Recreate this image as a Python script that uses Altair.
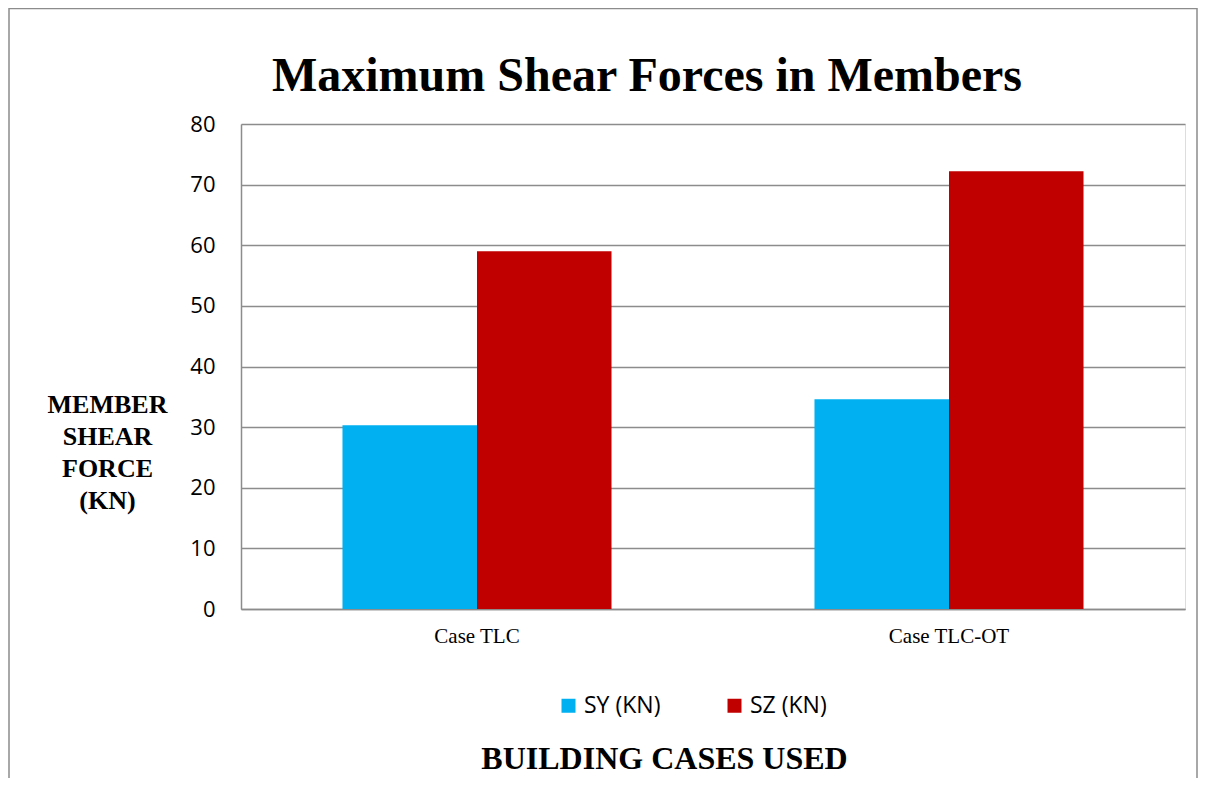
import altair as alt
import pandas as pd

cases = ["Case TLC", "Case TLC-OT"]
series = ["SY (KN)", "SZ (KN)"]
sy_values = [30.3, 34.6]
sz_values = [59.0, 72.2]
colors = ["#00B0F0", "#C00000"]
y_ticks = [0, 10, 20, 30, 40, 50, 60, 70, 80]
chart_title = "Maximum Shear Forces in Members"

rows = []
for i, c in enumerate(cases):
    rows.append({"case": c, "series": series[0], "value": sy_values[i]})
    rows.append({"case": c, "series": series[1], "value": sz_values[i]})
df = pd.DataFrame(rows)

GRID = "#8c8c8c"

bars = alt.Chart(df).mark_bar().encode(
    x=alt.X(
        "case:N",
        sort=cases,
        scale=alt.Scale(paddingInner=0.43, paddingOuter=0.215),
        axis=alt.Axis(
            title="BUILDING CASES USED",
            titleFont="Liberation Serif",
            titleFontSize=32,
            titleFontWeight="bold",
            titleColor="#000000",
            titleX=423,
            titleY=159,
            titleAlign="center",
            titleBaseline="alphabetic",
            labelFont="Liberation Serif",
            labelFontSize=21,
            labelColor="#000000",
            labelAngle=0,
            labelPadding=16,
            ticks=False,
            domain=True,
            domainColor=GRID,
            domainWidth=1.5,
            grid=False,
        ),
    ),
    xOffset=alt.XOffset("series:N", sort=series),
    y=alt.Y(
        "value:Q",
        scale=alt.Scale(domain=[0, 80], nice=False),
        axis=alt.Axis(
            values=y_ticks,
            title=["MEMBER", "SHEAR", "FORCE", "(KN)"],
            titleFont="Liberation Serif",
            titleFontSize=26,
            titleFontWeight="bold",
            titleColor="#000000",
            titleAngle=0,
            titleX=-134,
            titleY=288,
            titleAlign="center",
            titleBaseline="alphabetic",
            titleLineHeight=32,
            labelFont="Open Sans",
            labelFontSize=22,
            labelColor="#000000",
            labelPadding=26,
            ticks=False,
            domain=True,
            domainColor=GRID,
            domainWidth=1.5,
            grid=True,
            gridColor=GRID,
            gridWidth=1.5,
        ),
    ),
    color=alt.Color(
        "series:N",
        sort=series,
        scale=alt.Scale(domain=series, range=colors),
        legend=alt.Legend(
            title=None,
            orient="none",
            direction="horizontal",
            legendX=316,
            legendY=570,
            symbolType="square",
            symbolSize=196,
            symbolStrokeWidth=0,
            symbolOpacity=1,
            labelFont="Open Sans",
            labelFontSize=23,
            labelColor="#000000",
            labelOffset=4,
            columnPadding=62,
        ),
    ),
)

frame_df = pd.DataFrame({"k": [0]})
frame = alt.Chart(frame_df).mark_rect(
    fill="transparent", stroke=GRID, strokeWidth=1.5
).encode(
    x=alt.value(-232),
    x2=alt.value(956),
    y=alt.value(-115.5),
    y2=alt.value(700),
)

title_df = pd.DataFrame({"t": [chart_title]})
title = alt.Chart(title_df).mark_text(
    font="Liberation Serif",
    fontSize=48,
    fontWeight="bold",
    color="#000000",
    align="center",
    baseline="alphabetic",
).encode(
    text="t:N",
    x=alt.value(406),
    y=alt.value(-33),
)

chart = alt.layer(frame, bars, title).properties(
    width=944,
    height=485,
    padding={"left": 233, "top": 116, "right": 13, "bottom": 169},
    autosize=alt.AutoSizeParams(type="none"),
).configure_view(stroke=None).configure(background="#ffffff")

chart.save("out.html", embed_options={"renderer": "svg", "actions": False})
